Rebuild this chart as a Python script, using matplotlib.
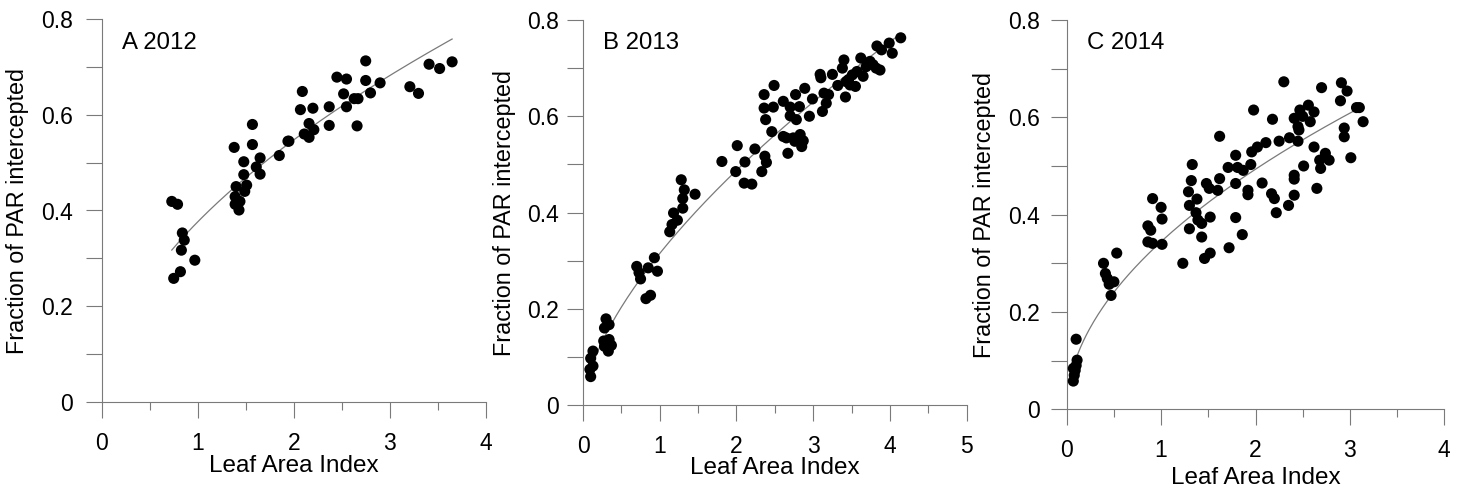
import numpy as np
import matplotlib
matplotlib.use("Agg")
import matplotlib.pyplot as plt
from matplotlib.ticker import MultipleLocator, FixedLocator

plt.rcParams["font.family"] = ["Liberation Sans", "DejaVu Sans"]

# ---- data ----
lai_2012 = [0.73, 0.79, 0.84, 0.86, 0.83, 0.97, 0.82, 0.75,
            1.38, 1.57, 1.57, 1.48, 1.65, 1.61, 1.65, 1.48, 1.40, 1.51, 1.49, 1.39, 1.44, 1.39, 1.43,
            1.85, 1.94, 1.95,
            2.09, 2.07, 2.20, 2.16, 2.11, 2.16, 2.21,
            2.37, 2.37,
            2.45, 2.55, 2.52, 2.55, 2.63, 2.67, 2.66,
            2.75, 2.75, 2.80, 2.90,
            3.21, 3.30, 3.41, 3.52, 3.65]
fpar_2012 = [0.419, 0.413, 0.353, 0.338, 0.317, 0.296, 0.272, 0.258,
             0.532, 0.580, 0.538, 0.502, 0.510, 0.491, 0.476, 0.475, 0.450, 0.453, 0.440, 0.429, 0.419, 0.413, 0.401,
             0.515, 0.545, 0.545,
             0.649, 0.611, 0.614, 0.582, 0.560, 0.553, 0.569,
             0.617, 0.578,
             0.679, 0.675, 0.644, 0.617, 0.634, 0.634, 0.577,
             0.713, 0.672, 0.646, 0.667,
             0.659, 0.645, 0.706, 0.697, 0.711]

lai_2013 = [0.10, 0.13, 0.09, 0.10, 0.13, 0.30, 0.28, 0.34, 0.27, 0.32, 0.34, 0.37, 0.33, 0.28,
            0.70, 0.73, 0.75, 0.85, 0.93, 0.97, 0.82, 0.88,
            1.13, 1.16, 1.18, 1.23, 1.30, 1.30, 1.32, 1.28, 1.46,
            1.81, 2.01, 1.99, 2.11, 2.10, 2.20, 2.24, 2.37, 2.39, 2.33,
            2.36, 2.49, 2.36, 2.48, 2.38, 2.46, 2.61, 2.70, 2.77, 2.82,
            2.89, 2.70, 2.78, 2.61, 2.65, 2.74, 2.83, 2.87, 2.85, 2.67,
            2.76, 2.95, 2.99, 3.09, 3.10, 3.25, 3.14, 3.20, 3.12, 3.17,
            3.32, 3.40, 3.38, 3.42, 3.46, 3.51, 3.55, 3.57, 3.62, 3.65,
            3.69, 3.74, 3.78, 3.82, 3.87, 3.83, 3.89, 3.99, 4.03, 4.14, 3.48, 3.43]
fpar_2013 = [0.059, 0.081, 0.074, 0.097, 0.112, 0.179, 0.160, 0.167, 0.133, 0.129, 0.136, 0.124, 0.112, 0.122,
             0.288, 0.275, 0.262, 0.285, 0.306, 0.278, 0.221, 0.228,
             0.360, 0.375, 0.399, 0.384, 0.409, 0.429, 0.447, 0.468, 0.438,
             0.506, 0.539, 0.485, 0.505, 0.461, 0.459, 0.532, 0.517, 0.504, 0.485,
             0.645, 0.664, 0.617, 0.619, 0.593, 0.568, 0.631, 0.619, 0.645, 0.620,
             0.658, 0.601, 0.593, 0.558, 0.555, 0.555, 0.562, 0.549, 0.537, 0.523,
             0.548, 0.600, 0.636, 0.687, 0.680, 0.687, 0.648, 0.645, 0.610, 0.627,
             0.664, 0.717, 0.700, 0.640, 0.676, 0.686, 0.662, 0.693, 0.721, 0.683,
             0.703, 0.714, 0.707, 0.700, 0.696, 0.746, 0.738, 0.752, 0.731, 0.763, 0.665, 0.672]

lai_2014 = [0.07, 0.08, 0.09, 0.10, 0.11, 0.07, 0.10,
            0.39, 0.41, 0.43, 0.45, 0.50, 0.47, 0.53,
            0.86, 0.89, 0.86, 0.91, 0.91, 1.00, 1.01, 1.01,
            1.23, 1.29, 1.32, 1.33, 1.30, 1.38, 1.37, 1.30, 1.39, 1.43,
            1.43, 1.52, 1.46, 1.52, 1.48, 1.51, 1.60, 1.62, 1.62, 1.71,
            1.79, 1.79, 1.81, 1.87, 1.92, 1.92, 1.79, 1.86, 1.72, 1.95,
            1.96, 2.02, 2.11, 1.98, 2.07, 2.17, 2.20, 2.22, 2.18, 2.25,
            2.30, 2.36, 2.45, 2.35, 2.41, 2.41, 2.41, 2.51, 2.41, 2.45,
            2.47, 2.50, 2.56, 2.62, 2.58, 2.46, 2.62, 2.65, 2.69, 2.68,
            2.74, 2.78, 2.70, 2.91, 2.97, 2.90, 2.94, 2.94, 3.01, 3.07, 3.10, 3.14]
fpar_2014 = [0.058, 0.070, 0.080, 0.090, 0.101, 0.084, 0.144,
             0.300, 0.279, 0.269, 0.257, 0.262, 0.234, 0.321,
             0.377, 0.368, 0.344, 0.341, 0.433, 0.415, 0.391, 0.339,
             0.300, 0.447, 0.470, 0.503, 0.419, 0.432, 0.404, 0.371, 0.389, 0.382,
             0.354, 0.395, 0.310, 0.321, 0.464, 0.454, 0.450, 0.474, 0.561, 0.497,
             0.522, 0.464, 0.497, 0.491, 0.450, 0.441, 0.394, 0.359, 0.332, 0.503,
             0.529, 0.539, 0.548, 0.615, 0.465, 0.443, 0.433, 0.404, 0.596, 0.551,
             0.673, 0.558, 0.551, 0.419, 0.440, 0.473, 0.481, 0.500, 0.598, 0.581,
             0.615, 0.602, 0.625, 0.611, 0.591, 0.574, 0.539, 0.454, 0.495, 0.512,
             0.526, 0.512, 0.661, 0.671, 0.654, 0.634, 0.578, 0.560, 0.517, 0.620, 0.620, 0.591]

panel_labels = ["A 2012", "B 2013", "C 2014"]
x_max = [4, 5, 4]

# ---- layout (pixels in a 1463x488 figure) ----
W, H = 1463, 488
# left, right, bottom(y=0), top(y=0.8)
boxes = [(101.7, 485.7, 401.7, 19.3),
         (583.0, 966.7, 405.0, 20.0),
         (1066.7, 1444.3, 409.3, 20.0)]
ylabel_x = [18, 505, 985]
xlabel_base = [471.7, 474.5, 483.5]
ytick_pad = [9, 6, 7.7]

GRAY = "#7a7a7a"

fig = plt.figure(figsize=(W / 100, H / 100), dpi=100)

datasets = [(lai_2012, fpar_2012), (lai_2013, fpar_2013), (lai_2014, fpar_2014)]

for i, (lai, fpar) in enumerate(datasets):
    l, r, b, t = boxes[i]
    ax = fig.add_axes([l / W, 1 - b / H, (r - l) / W, (b - t) / H])
    lai = np.array(lai)
    fpar = np.array(fpar)

    # power-law fit, as in the original
    slope, icept = np.polyfit(np.log(lai), np.log(fpar), 1)
    xs = np.linspace(lai.min(), lai.max(), 200)
    ax.plot(xs, np.exp(icept) * xs ** slope, color=GRAY, lw=0.9, zorder=2)

    ax.scatter(lai, fpar, s=64, color="black", edgecolors="none", zorder=3, clip_on=False)

    ax.set_xlim(0, x_max[i])
    ax.set_ylim(0, 0.8)
    for side in ["top", "right"]:
        ax.spines[side].set_visible(False)
    for side in ["left", "bottom"]:
        ax.spines[side].set_color(GRAY)
        ax.spines[side].set_linewidth(0.8)

    ax.xaxis.set_major_locator(MultipleLocator(1))
    ax.xaxis.set_minor_locator(MultipleLocator(0.5))
    ax.yaxis.set_major_locator(FixedLocator([0, 0.2, 0.4, 0.6, 0.8]))
    ax.yaxis.set_minor_locator(FixedLocator([0.1, 0.3, 0.5, 0.7]))
    ax.set_yticklabels(["0", "0.2", "0.4", "0.6", "0.8"])

    ax.tick_params(which="both", direction="out", color=GRAY, width=0.8, labelsize=16.5)
    ax.tick_params(axis="x", which="major", length=11.5, pad=10)
    ax.tick_params(axis="x", which="minor", length=5.8)
    ax.tick_params(axis="y", which="both", length=11.5, pad=ytick_pad[i])

    ax.set_xlabel("Leaf Area Index", fontsize=17.5)
    ax.xaxis.label.set_va("baseline")
    ax.xaxis.set_label_coords(0.5, -(xlabel_base[i] - b) / (b - t))

    ax.set_ylabel("Fraction of PAR intercepted", fontsize=16.8)
    ax.yaxis.label.set_va("center")
    ax.yaxis.set_label_coords(-(l - ylabel_x[i]) / (r - l), 0.5)

    fig.text((l + 20) / W, 1 - 49 / H, panel_labels[i], fontsize=17.3, va="baseline", ha="left")

fig.savefig("out.png", dpi=100)
